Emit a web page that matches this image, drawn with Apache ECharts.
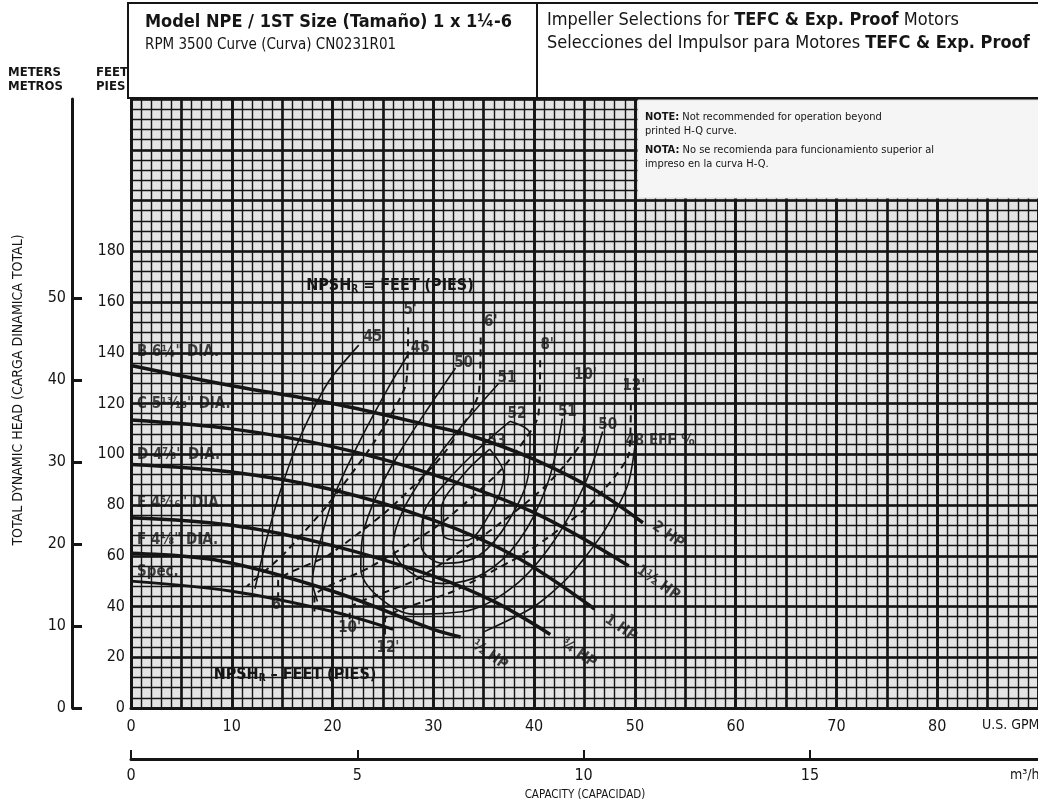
<!DOCTYPE html>
<html><head><meta charset="utf-8">
<script src="https://cdn.jsdelivr.net/npm/echarts@6/dist/echarts.min.js"></script>
<style>html,body{margin:0;padding:0;background:#fff}#c{width:1038px;height:808px}</style>
</head><body><div id="c"></div><script>
// ---------- data (GPM, feet) ----------
const gpmTicks = [0,10,20,30,40,50,60,70,80];
const feetTicks = [0,20,40,60,80,100,120,140,160,180];
const meterTicks = [0,10,20,30,40,50];
const m3Ticks = [0,5,10,15];

const headB = [[0,135],[10,127],[20,120],[30,111],[34,107],[40,98],[46,86],[50.8,73]];
const headC = [[0,113.5],[10,110],[20,103],[30,92],[40,77],[49.4,56]];
const headD = [[0,96],[10,93],[20,86],[30,74],[38,60],[46,39]];
const headE = [[0,75],[10,72],[20,64],[30,52],[36,42],[41.6,29]];
const headF = [[0,61],[8.8,58],[20,46],[30,31],[32.7,28]];
const headSpec = [[0,50],[10,46],[20,38],[26,31]];

const eff45 = [[22.6,143],[19.5,128],[16.7,106],[14.7,84],[13.3,64],[12.3,47]];
const eff46 = [[27.6,140],[25.5,126],[22.8,106],[20.3,85],[18.8,66],[18,50],[18.5,42]];
const eff50 = [[32.2,134],[29.8,120],[27,103],[24.5,85],[23,68],[22.8,55],[24.5,44],[28,37],[33,38],[38,48],[42,66],[45,88],[46.8,109]];
const eff51 = [[36.5,128],[33,112],[29.5,94],[27,78],[26,64],[27.5,54],[31,49],[35,53],[38.5,66],[41.3,88],[42.8,114]];
const eff52 = [[37.6,113],[35,104],[31.5,90],[29,76],[28.8,64],[31,57],[34.5,60],[37.5,74],[39.5,94],[39.6,108],[37.6,113]];
const eff53 = [[35.6,102],[33,92],[30.8,78],[31,68],[33.2,66],[35.5,76],[37,92],[35.6,102]];
const eff48 = [[50,103],[49.3,88],[47,70],[43.5,52],[40,40],[35,30]];

const npsh5 = [[27.5,150],[27.3,128],[24,104],[19.5,80],[15,60],[11.5,48]];
const npsh6 = [[34.7,146],[34.5,124],[31,100],[25.5,78],[19.5,60],[14.6,50],[14.6,44]];
const npsh8 = [[40.6,137],[40.4,115],[36.5,93],[30.5,72],[23.5,55],[18.2,44],[18.2,38]];
const npsh10 = [[45,126],[44.8,106],[41,87],[35,68],[28,50],[21.7,39],[21.7,35]];
const npsh12 = [[49.6,120],[49.4,100],[45.5,80],[39.5,62],[32,46],[25.2,35],[25.2,27]];

const diaLabels = [[0.6,140.3,'B 6¼" DIA.'],[0.6,119.8,'C 5¹³⁄₁₆" DIA.'],[0.6,99.7,'D 4⅞" DIA.'],[0.6,80.8,'E 4⁵⁄₁₆" DIA.'],[0.6,66.2,'F 4⅛" DIA.'],[0.6,53.6,'Spec.']];
const hpLabels = [[53.3,68.2,'2 HP'],[52.3,49.3,'1½ HP'],[48.6,31.5,'1 HP'],[44.4,21.7,'¾ HP'],[35.6,20.9,'½ HP']];
const npshLabels = [[27.7,157,"5'"],[35.7,152,"6'"],[41.3,143,"8'"],[45.1,131,"10'"],[49.9,127,"12'"],[14.6,40.6,"6'"],[21.7,31.5,"10'"],[25.5,23.6,"12'"]];
const effLabels = [[24,146,'45'],[28.7,142,'46'],[33,136,'50'],[37.3,130,'51'],[38.3,116,'52'],[36.3,105,'53'],[43.3,116.6,'51'],[47.3,111.5,'50'],[52.5,105,'48 EFF %']];

// ---------- chart ----------
const FONT = "'Liberation Sans Narrow','DejaVu Sans Condensed','Liberation Sans',sans-serif";
const INK = '#151515';
const chart = echarts.init(document.getElementById('c'), null, {renderer:'canvas'});

function line(data, width, type, z, smooth){
  return {type:'line', data, xAxisIndex:2, yAxisIndex:1, symbol:'none', smooth:smooth==null?0.35:smooth, silent:true,
    lineStyle:{color:INK, width, type}, z: z||5, animation:false};
}
function labels(data, size, extra){
  return Object.assign({type:'scatter', data, xAxisIndex:2, yAxisIndex:1, symbolSize:0, silent:true, animation:false, z:8,
    label:{show:true, position:'inside', formatter:p=>p.data[2], color:INK, fontFamily:FONT, fontWeight:'bold', fontSize:size}}, extra||{});
}

const gridLine = (w)=>({show:true, lineStyle:{color:INK, width:w}});
const hidden = {show:false};

const option = {
  backgroundColor:'#ffffff',
  animation:false,
  textStyle:{fontFamily:FONT},
  grid:{left:131, top:99, width:907, height:609, show:true, backgroundColor:'#e4e4e4', borderWidth:0},
  xAxis:[
    {type:'value', min:0, max:90, interval:1, position:'bottom', splitLine:gridLine(1.4), axisLine:hidden, axisTick:hidden, axisLabel:hidden},
    {type:'value', min:0, max:90, interval:5, position:'bottom', splitLine:gridLine(2.6), axisLine:hidden, axisTick:hidden, axisLabel:hidden},
    {type:'value', min:0, max:90, interval:10, position:'bottom', splitLine:gridLine(2.6),
      axisLine:{show:true, onZero:false, lineStyle:{color:INK, width:3}}, axisTick:hidden,
      axisLabel:{color:INK, fontSize:16, fontFamily:FONT, margin:11, customValues:gpmTicks}},
    {type:'value', min:0, max:20.04, interval:5, position:'bottom', offset:51,
      axisLine:{show:true, onZero:false, lineStyle:{color:INK, width:3}},
      axisTick:{show:true, inside:true, length:9, lineStyle:{color:INK, width:2}, customValues:m3Ticks},
      axisLabel:{color:INK, fontSize:16, fontFamily:FONT, margin:9, customValues:m3Ticks}, splitLine:hidden}
  ],
  yAxis:[
    {type:'value', min:0, max:240, interval:4, position:'left', splitLine:gridLine(1.4), axisLine:hidden, axisTick:hidden, axisLabel:hidden},
    {type:'value', min:0, max:240, interval:20, position:'left', splitLine:gridLine(2.6),
      axisLine:{show:true, onZero:false, lineStyle:{color:INK, width:3}}, axisTick:hidden,
      axisLabel:{color:INK, fontSize:16, fontFamily:FONT, margin:6, customValues:feetTicks}},
    {type:'value', min:0, max:74.3, interval:10, position:'left', offset:59,
      axisLine:{show:true, onZero:false, lineStyle:{color:INK, width:3}},
      axisTick:{show:true, inside:true, length:10, lineStyle:{color:INK, width:3}, customValues:meterTicks},
      axisLabel:{color:INK, fontSize:16, fontFamily:FONT, margin:6, customValues:meterTicks}, splitLine:hidden}
  ],
  series:[
    line(headB,3.5,'solid',6), line(headC,3.5,'solid',6), line(headD,3.5,'solid',6),
    line(headE,3.5,'solid',6), line(headF,3.5,'solid',6), line(headSpec,3,'solid',6),
    line(eff45,1.6,'solid',5,0.25), line(eff46,1.6,'solid',5,0.25), line(eff50,1.6,'solid'), line(eff51,1.6,'solid'),
    line(eff52,1.6,'solid'), line(eff53,1.6,'solid'), line(eff48,1.6,'solid',5,0.25),
    line(npsh5,2,[7,5],5,0.2), line(npsh6,2,[7,5],5,0.2), line(npsh8,2,[7,5],5,0.2), line(npsh10,2,[7,5],5,0.2), line(npsh12,2,[7,5],5,0.2),
    labels(diaLabels,14,{label:{show:true, position:'right', distance:0, formatter:p=>p.data[2], color:INK, fontFamily:FONT, fontWeight:'bold', fontSize:15}}),
    labels(hpLabels,14,{label:{show:true, position:'inside', rotate:-35, formatter:p=>p.data[2], color:INK, fontFamily:FONT, fontWeight:'bold', fontSize:15}}),
    labels(npshLabels,15),
    labels(effLabels,15)
  ],
  graphic:[
    {type:'rect', z:20, shape:{x:128, y:3, width:915, height:95}, style:{fill:'#fff', stroke:INK, lineWidth:2}},
    {type:'line', z:21, shape:{x1:537, y1:3, x2:537, y2:98}, style:{stroke:INK, lineWidth:2}},
    {type:'text', z:22, left:145, top:13, style:{text:'Model NPE / 1ST Size (Tamaño) 1 x 1¼-6', fontFamily:FONT, fontWeight:'bold', fontSize:18, fill:INK}},
    {type:'text', z:22, left:145, top:38, style:{text:'RPM 3500 Curve (Curva) CN0231R01', fontFamily:FONT, fontSize:15, fill:INK}},
    {type:'text', z:22, left:547, top:11, style:{text:'Impeller Selections for {b|TEFC & Exp. Proof} Motors', fontFamily:FONT, fontSize:18, fill:INK,
      rich:{b:{fontFamily:FONT, fontWeight:'bold', fontSize:18, fill:INK}}}},
    {type:'text', z:22, left:547, top:34, style:{text:'Selecciones del Impulsor para Motores {b|TEFC & Exp. Proof}', fontFamily:FONT, fontSize:18, fill:INK,
      rich:{b:{fontFamily:FONT, fontWeight:'bold', fontSize:18, fill:INK}}}},
    {type:'rect', z:20, shape:{x:638, y:100, width:405, height:98}, style:{fill:'#f5f5f5', stroke:'#e0e0e0', lineWidth:1}},
    {type:'text', z:22, left:645, top:110, style:{text:'{b|NOTE:} Not recommended for operation beyond\nprinted H-Q curve.', fontFamily:FONT, fontSize:11, lineHeight:14, fill:INK,
      rich:{b:{fontFamily:FONT, fontWeight:'bold', fontSize:11, fill:INK}}}},
    {type:'text', z:22, left:645, top:143, style:{text:'{b|NOTA:} No se recomienda para funcionamiento superior al\nimpreso en la curva H-Q.', fontFamily:FONT, fontSize:11, lineHeight:14, fill:INK,
      rich:{b:{fontFamily:FONT, fontWeight:'bold', fontSize:11, fill:INK}}}},
    {type:'text', z:22, left:8, top:66, style:{text:'METERS\nMETROS', fontFamily:FONT, fontWeight:'bold', fontSize:13, lineHeight:14, fill:INK}},
    {type:'text', z:22, left:96, top:66, style:{text:'FEET\nPIES', fontFamily:FONT, fontWeight:'bold', fontSize:13, lineHeight:14, fill:INK}},
    {type:'text', z:22, x:18, y:390, rotation:Math.PI/2, style:{text:'TOTAL DYNAMIC HEAD (CARGA DINAMICA TOTAL)', fontFamily:FONT, fontSize:14, fill:INK, align:'center', verticalAlign:'middle'}},
    {type:'text', z:22, left:982, top:718, style:{text:'U.S. GPM', fontFamily:FONT, fontSize:14, fill:INK}},
    {type:'text', z:22, left:1010, top:768, style:{text:'m³/hr', fontFamily:FONT, fontSize:14, fill:INK}},
    {type:'text', z:22, x:585, y:795, style:{text:'CAPACITY (CAPACIDAD)', fontFamily:FONT, fontSize:11.5, fill:INK, align:'center', verticalAlign:'middle'}},
    {type:'text', z:22, x:390, y:286, style:{text:'NPSH{s|R} = FEET (PIES)', fontFamily:FONT, fontWeight:'bold', fontSize:16, fill:INK, align:'center', verticalAlign:'middle',
      rich:{s:{fontFamily:FONT, fontWeight:'bold', fontSize:10, fill:INK, verticalAlign:'bottom', padding:[6,0,0,0]}}}},
    {type:'text', z:22, x:295, y:675, style:{text:'NPSH{s|R} – FEET (PIES)', fontFamily:FONT, fontWeight:'bold', fontSize:16, fill:INK, align:'center', verticalAlign:'middle',
      rich:{s:{fontFamily:FONT, fontWeight:'bold', fontSize:10, fill:INK, verticalAlign:'bottom', padding:[6,0,0,0]}}}}
  ]
};
chart.setOption(option);
</script></body></html>
